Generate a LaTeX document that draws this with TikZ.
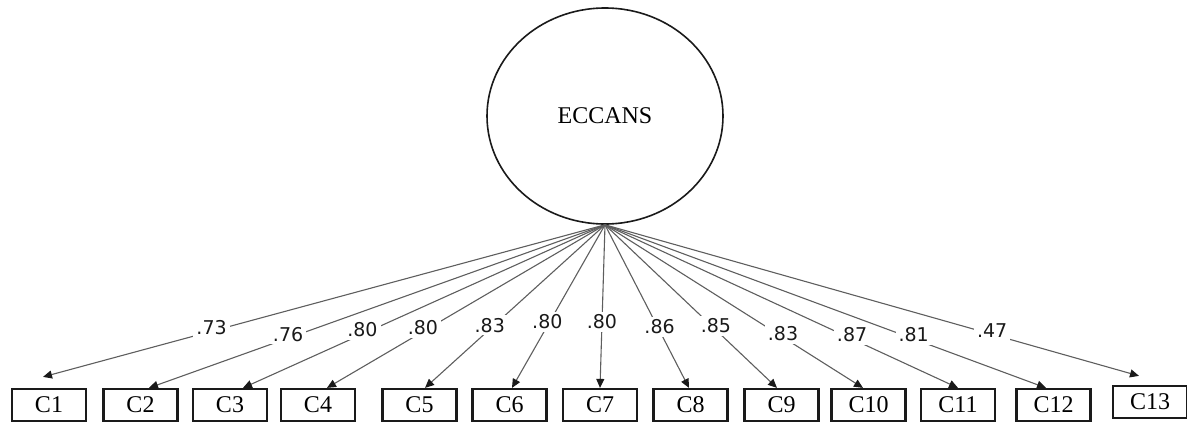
\documentclass[tikz,border=0pt]{standalone}
\usepackage{fontspec}
\setmainfont{Liberation Serif}
\newfontfamily\loadfont{DejaVu Sans}
\usepackage{xcolor}
\usetikzlibrary{arrows.meta,positioning,shapes.geometric}
\definecolor{ink}{HTML}{1A1A1A}
\definecolor{wire}{HTML}{5E5E5E}
\tikzset{
  latent/.style={draw=ink,ellipse,line width=1.6pt,
                 minimum width=236pt,minimum height=216pt,inner sep=0pt,
                 font=\fontsize{24}{26}\selectfont},
  indicator/.style={draw=ink,line width=2.2pt,
                    minimum width=74pt,minimum height=32pt,inner sep=0pt,
                    font=\fontsize{24}{26}\selectfont},
  loadarr/.style={-{Triangle[length=9pt,width=8pt,color=ink]},line width=1.1pt,color=wire},
  loadlab/.style={fill=white,inner sep=3pt,text=ink,yshift=4pt,
                  font=\loadfont\fontsize{19}{21}\selectfont}
}

\begin{document}
\begin{tikzpicture}[x=1pt,y=-1pt]
  \useasboundingbox (0,0) rectangle (1187,423);
  \node[latent] (eccans) at (605,116) {ECCANS};

  \node[indicator] (c1) at (49,405) {C1};
  \node[indicator] (c2) at (140.5,405) {C2};
  \node[indicator] (c3) at (230,405) {C3};
  \node[indicator] (c4) at (318,405) {C4};
  \node[indicator] (c5) at (419.5,405) {C5};
  \node[indicator] (c6) at (509.5,405) {C6};
  \node[indicator] (c7) at (600,405) {C7};
  \node[indicator] (c8) at (690.5,405) {C8};
  \node[indicator] (c9) at (781.5,405) {C9};
  \node[indicator] (c10) at (868.5,405) {C10};
  \node[indicator] (c11) at (958,405) {C11};
  \node[indicator] (c12) at (1053.5,405) {C12};
  \node[indicator] (c13) at (1150,402) {C13};

  % loadings
  \draw[loadarr] (eccans.south) -- node[loadlab,pos=0.70] {.73} ([xshift=-6pt,yshift=11pt]c1.north);
  \draw[loadarr] (eccans.south) -- node[loadlab,pos=0.695] {.76} ([xshift=8.5pt]c2.north);
  \draw[loadarr] (eccans.south) -- node[loadlab,pos=0.67] {.80} ([xshift=13pt]c3.north);
  \draw[loadarr] (eccans.south) -- node[loadlab,pos=0.655] {.80} ([xshift=9pt]c4.north);
  \draw[loadarr] (eccans.south) -- node[loadlab,pos=0.64] {.83} ([xshift=5.5pt]c5.north);
  \draw[loadarr] (eccans.south) -- node[loadlab,pos=0.62] {.80} ([xshift=2.5pt]c6.north);
  \draw[loadarr] (eccans.south) -- node[loadlab,pos=0.62] {.80} (c7.north);
  \draw[loadarr] (eccans.south) -- node[loadlab,pos=0.65] {.86} ([xshift=-1.5pt]c8.north);
  \draw[loadarr] (eccans.south) -- node[loadlab,pos=0.645] {.85} ([xshift=-4.5pt]c9.north);
  \draw[loadarr] (eccans.south) -- node[loadlab,pos=0.69] {.83} ([xshift=-5.5pt]c10.north);
  \draw[loadarr] (eccans.south) -- node[loadlab,pos=0.70] {.87} (c11.north);
  \draw[loadarr] (eccans.south) -- node[loadlab,pos=0.70] {.81} ([xshift=-7.5pt]c12.north);
  \draw[loadarr] (eccans.south) -- node[loadlab,pos=0.725] {.47} ([xshift=-11pt,yshift=9pt]c13.north);
\end{tikzpicture}
\end{document}
